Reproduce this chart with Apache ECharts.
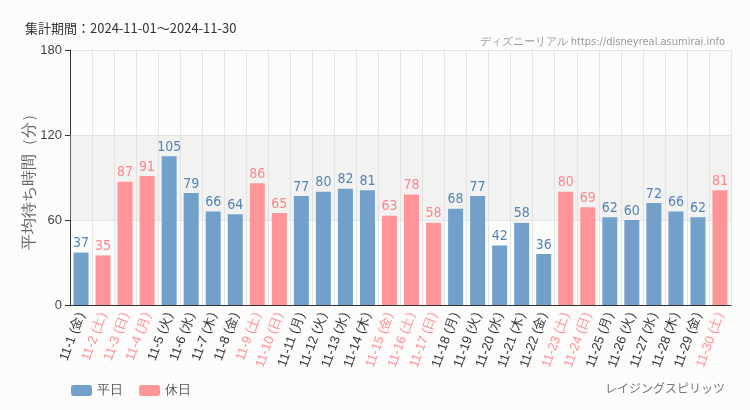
<!DOCTYPE html>
<html><head><meta charset="utf-8">
<script src="https://cdn.jsdelivr.net/npm/echarts@6/dist/echarts.min.js"></script>
<style>html,body{margin:0;padding:0;background:#fcfdfb;}#c{width:750px;height:410px;}</style>
</head><body><div id="c"></div>
<script>
const dates = ['11-1','11-2','11-3','11-4','11-5','11-6','11-7','11-8','11-9','11-10','11-11','11-12','11-13','11-14','11-15','11-16','11-17','11-18','11-19','11-20','11-21','11-22','11-23','11-24','11-25','11-26','11-27','11-28','11-29','11-30'];
const weekdays = ['金','土','日','月','火','水','木','金','土','日','月','火','水','木','金','土','日','月','火','水','木','金','土','日','月','火','水','木','金','土'];
const waitTimes = [37,35,87,91,105,79,66,64,86,65,77,80,82,81,63,78,58,68,77,42,58,36,80,69,62,60,72,66,62,81];
const holidayFlags = [0,1,1,1,0,0,0,0,1,1,0,0,0,0,1,1,1,0,0,0,0,0,1,1,0,0,0,0,0,1];
const yTicks = [0,60,120,180];

const BLUE='#6b9bc8', PINK='#ff8e93', BLUE_T='#4a7cb5', PINK_T='#ff7d85';
const cats = dates.map((d,i)=>d+' ('+weekdays[i]+')');
const weekdaySeries = waitTimes.map((v,i)=>holidayFlags[i]?null:v);
const holidaySeries = waitTimes.map((v,i)=>holidayFlags[i]?v:null);
const condensed = "'DejaVu Sans Condensed','Liberation Sans Narrow',sans-serif";
const chart = echarts.init(document.getElementById('c'));
chart.setOption({
  backgroundColor:'#fcfdfb',
  animation:false,
  title:[
    {text:'集計期間：2024-11-01～2024-11-30',left:20,top:17,textStyle:{fontSize:13,fontWeight:'normal',color:'#333',fontFamily:"'Noto Sans CJK JP',sans-serif"}},
    {text:'ディズニーリアル https://disneyreal.asumirai.info',right:20,top:32,textStyle:{fontSize:11,fontWeight:'normal',color:'#999',fontFamily:condensed}},
    {text:'レイジングスピリッツ',right:20,top:377,textStyle:{fontSize:12,fontWeight:'normal',color:'#777',fontFamily:"'Noto Sans CJK JP',sans-serif"}}
  ],
  legend:{left:66,top:379,itemWidth:21,itemHeight:11,itemGap:16,textStyle:{fontSize:13,color:'#555'},data:['平日','休日']},
  grid:{left:70,right:19,top:50,bottom:105},
  xAxis:{type:'category',data:cats,
    axisLine:{lineStyle:{color:'#333'}},
    axisTick:{alignWithLabel:true,lineStyle:{color:'#333'}},
    splitLine:{show:true,lineStyle:{color:'#e4e4e4'}},
    axisLabel:{interval:0,rotate:70,fontSize:13,margin:8,
      color:(v,i)=>holidayFlags[i]?PINK:'#333'}},
  yAxis:{type:'value',min:yTicks[0],max:yTicks[yTicks.length-1],interval:60,
    name:'平均待ち時間（分）',nameLocation:'middle',nameGap:32,nameMoveOverlap:false,
    nameTextStyle:{fontSize:16,color:'#666'},
    axisLine:{show:true,lineStyle:{color:'#333'}},
    axisTick:{show:true,lineStyle:{color:'#333'}},
    axisLabel:{fontSize:13,color:'#444'},
    splitLine:{lineStyle:{color:'#e4e4e4'}}},
  series:[
    {name:'平日',type:'bar',data:weekdaySeries,barWidth:15,barGap:'-100%',
      itemStyle:{color:BLUE,opacity:0.95},
      label:{show:true,position:'top',distance:2,color:BLUE_T,fontSize:14,fontFamily:condensed},
      markArea:{silent:true,itemStyle:{color:'rgba(220,222,218,0.3)'},data:[[{yAxis:60},{yAxis:120}]]}},
    {name:'休日',type:'bar',data:holidaySeries,barWidth:15,
      itemStyle:{color:PINK,opacity:0.95},
      label:{show:true,position:'top',distance:2,color:PINK_T,fontSize:14,fontFamily:condensed}}
  ]
});
</script></body></html>
